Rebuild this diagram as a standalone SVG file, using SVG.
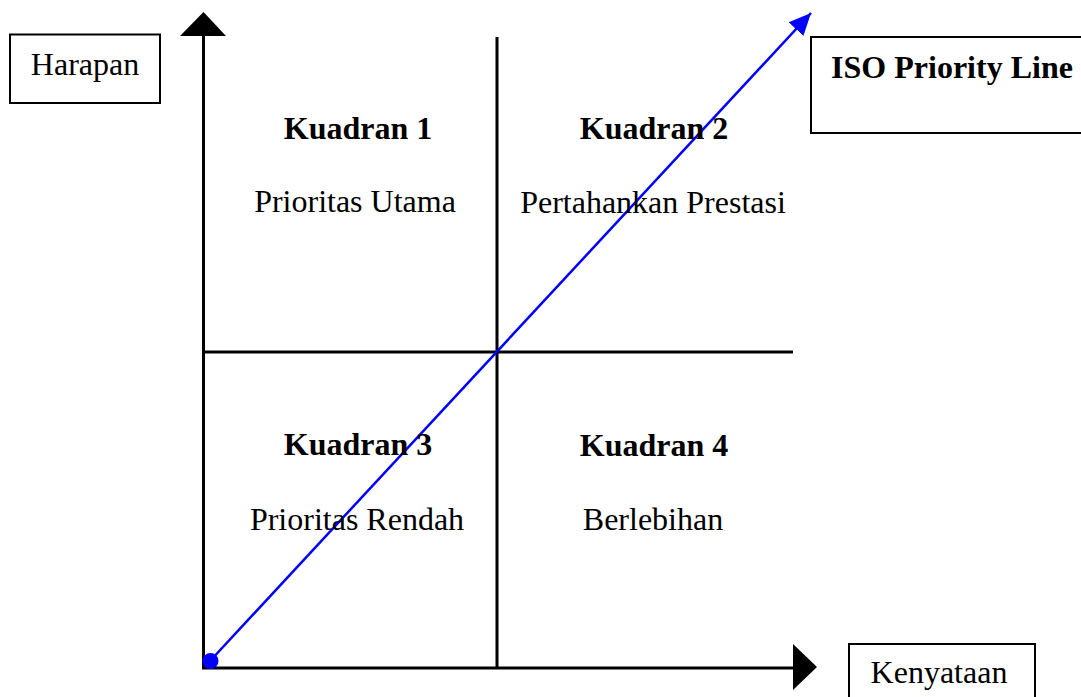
<svg xmlns="http://www.w3.org/2000/svg" width="1081" height="697" viewBox="0 0 1081 697">
<style>
  .box{fill:#fff;stroke:#000;stroke-width:2}
  .ax{stroke:#000;stroke-width:3;fill:none}
  .t{font-family:"Liberation Serif","Times New Roman",serif;font-size:32px;fill:#000;text-anchor:middle}
  .b{font-weight:bold}
</style>
<defs>
  <marker id="blueHead" markerUnits="userSpaceOnUse" markerWidth="24" markerHeight="24" viewBox="0 0 24 24" refX="22" refY="12" orient="auto">
    <path d="M0,2 L22,12 L0,22 Z" fill="#0000ff"/>
  </marker>
</defs>
<rect width="1081" height="697" fill="#fff"/>
<g id="connectors">
  <line class="ax" x1="203.5" y1="34" x2="203.5" y2="669"/>
  <polygon points="203.5,12 226,36 180,36" fill="#000"/>
  <line class="ax" x1="202" y1="668" x2="795" y2="668"/>
  <polygon points="817,667 793,644 793,690" fill="#000"/>
  <line class="ax" x1="497" y1="37" x2="497" y2="668"/>
  <line class="ax" x1="203" y1="352" x2="793" y2="352"/>
  <line x1="210" y1="661" x2="811" y2="13" stroke="#0000ff" stroke-width="2.5" marker-end="url(#blueHead)"/>
  <circle cx="210.5" cy="661" r="8" fill="#0000ff"/>
</g>
<g id="harapan">
  <rect class="box" x="10" y="34.5" width="150" height="68.5"/>
  <text class="t" x="85" y="75">Harapan</text>
</g>
<g id="iso">
  <rect class="box" x="811" y="37" width="280" height="96"/>
  <text class="t b" x="952" y="78">ISO Priority Line</text>
</g>
<g id="kenyataan">
  <rect class="box" x="849" y="644" width="186" height="60"/>
  <text class="t" x="939" y="683">Kenyataan</text>
</g>
<g id="q1">
  <text class="t b" x="358" y="139">Kuadran 1</text>
  <text class="t" x="355" y="212">Prioritas Utama</text>
</g>
<g id="q2">
  <text class="t b" x="654" y="139">Kuadran 2</text>
  <text class="t" x="653" y="213">Pertahankan Prestasi</text>
</g>
<g id="q3">
  <text class="t b" x="358" y="455">Kuadran 3</text>
  <text class="t" x="357" y="530">Prioritas Rendah</text>
</g>
<g id="q4">
  <text class="t b" x="654" y="456">Kuadran 4</text>
  <text class="t" x="653" y="530">Berlebihan</text>
</g>
</svg>
